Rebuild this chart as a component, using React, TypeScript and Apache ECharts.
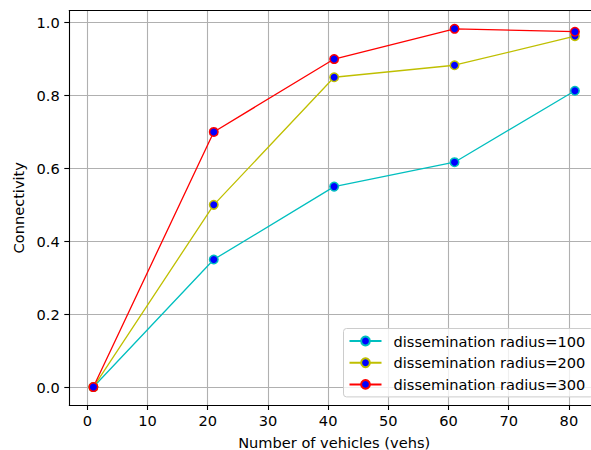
import React, { useEffect, useRef } from "react";
import * as echarts from "echarts";

const vehicles = [1, 21, 41, 61, 81];
const radius100 = [0, 0.35, 0.55, 0.617, 0.813];
const radius200 = [0, 0.5, 0.85, 0.883, 0.963];
const radius300 = [0, 0.7, 0.9, 0.983, 0.975];
const seriesNames = [
  "dissemination radius=100",
  "dissemination radius=200",
  "dissemination radius=300",
];
const seriesColors = ["#00bfbf", "#bfbf00", "#ff0000"];
const xTicks = [0, 10, 20, 30, 40, 50, 60, 70, 80];
const yTicks = [0, 0.2, 0.4, 0.6, 0.8, 1.0];
const xLabel = "Number of vehicles (vehs)";
const yLabel = "Connectivity";

const FONT = "DejaVu Sans";
const FS = 14.6;

export default function App() {
  const ref = useRef<HTMLDivElement>(null);
  useEffect(() => {
    if (!ref.current) return;
    const chart = echarts.init(ref.current, undefined, { renderer: "svg" });
    const values = [radius100, radius200, radius300];
    const series = values.map((vals, i) => ({
      name: seriesNames[i],
      type: "line",
      data: vehicles.map((x, j) => [x, vals[j]]),
      symbol: "circle",
      symbolSize: 8.5,
      itemStyle: { color: "#0000ff", borderColor: seriesColors[i], borderWidth: 1.5 },
      lineStyle: { color: seriesColors[i], width: 1.3 },
      emphasis: { disabled: true },
      clip: false,
    }));
    const option: any = {
      animation: false,
      backgroundColor: "#ffffff",
      grid: {
        left: 69.3,
        top: 10.5,
        width: 529.7,
        height: 394.5,
        containLabel: false,
        outerBoundsMode: "none",
      },
      xAxis: [
        {
          type: "value",
          min: -3,
          max: 85,
          position: "bottom",
          name: xLabel,
          nameLocation: "middle",
          nameGap: 29.5,
          nameTextStyle: { fontFamily: FONT, fontSize: FS, color: "#000" },
          axisLine: { show: true, onZero: false, lineStyle: { color: "#000", width: 1.1 } },
          axisTick: { show: true, length: 5, inside: false, customValues: xTicks, lineStyle: { color: "#000", width: 1.1 } },
          axisLabel: { show: true, margin: 8, customValues: xTicks, fontFamily: FONT, fontSize: FS, color: "#000" },
          splitLine: { show: true, lineStyle: { color: "#b0b0b0", width: 1.1 } },
        },
        {
          type: "value",
          min: -3,
          max: 85,
          position: "top",
          axisLine: { show: true, onZero: false, lineStyle: { color: "#000", width: 1.1 } },
          axisTick: { show: false },
          axisLabel: { show: false },
          splitLine: { show: false },
        },
      ],
      yAxis: {
        type: "value",
        min: -0.0492,
        max: 1.0332,
        name: yLabel,
        nameLocation: "middle",
        nameGap: 40,
        nameTextStyle: { fontFamily: FONT, fontSize: FS, color: "#000" },
        axisLine: { show: true, onZero: false, lineStyle: { color: "#000", width: 1.1 } },
        axisTick: { show: true, length: 5, inside: false, customValues: yTicks, lineStyle: { color: "#000", width: 1.1 } },
        axisLabel: {
          show: true,
          margin: 9.5,
          customValues: yTicks,
          formatter: (v: number) => v.toFixed(1),
          fontFamily: FONT,
          fontSize: FS,
          color: "#000",
        },
        splitLine: { show: true, lineStyle: { color: "#b0b0b0", width: 1.1 } },
      },
      legend: {
        orient: "vertical",
        left: 343.5,
        top: 328.5,
        itemWidth: 32,
        itemHeight: 11,
        itemGap: 6.7,
        padding: [5, 8, 5, 5],
        backgroundColor: "rgba(255,255,255,0.8)",
        borderColor: "#cccccc",
        borderWidth: 1,
        borderRadius: 3,
        selectedMode: false,
        textStyle: { fontFamily: FONT, fontSize: FS, color: "#000", lineHeight: 15, padding: [0, 0, 0, 7] },
        data: seriesNames,
      },
      series,
    };
    chart.setOption(option);
    return () => chart.dispose();
  }, []);
  return (
    <div
      ref={ref}
      style={{ position: "fixed", left: 0, top: 0, width: 591, height: 450, background: "#fff" }}
    />
  );
}
